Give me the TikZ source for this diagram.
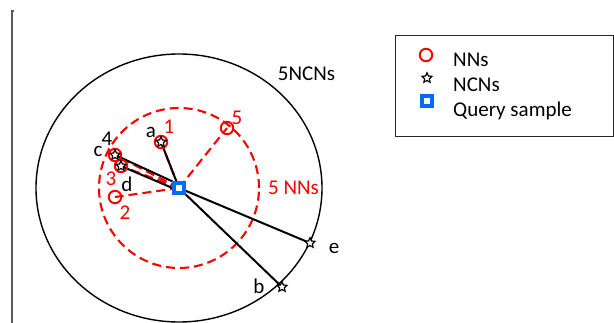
\documentclass[tikz,border=0pt]{standalone}
\usepackage{fontspec}
\setmainfont{Carlito}
\usetikzlibrary{shapes.geometric,backgrounds}
\definecolor{nnred}{RGB}{255,0,0}
\definecolor{qblue}{RGB}{0,108,245}
\definecolor{axisgray}{RGB}{90,90,90}
\begin{document}
\begin{tikzpicture}[x=1pt,y=-1pt,
  lbl/.style={font=\fontsize{21}{25}\selectfont, inner sep=0pt},
  nnlbl/.style={lbl, text=nnred},
  nn/.style={circle, draw=nnred, line width=1.9pt, minimum size=12.5pt, inner sep=0pt},
  ncn/.style={star, star points=5, star point ratio=2.1, draw=black, fill=white,
              line width=1.2pt, minimum size=10.5pt, inner sep=0pt},
  query/.style={rectangle, draw=qblue, fill=white, line width=3.2pt,
                minimum size=10pt, inner sep=0pt},
  link/.style={black, line width=2pt},
  nnlink/.style={nnred, line width=2.1pt, dash pattern=on 9pt off 5pt},
]
\useasboundingbox (0,0) rectangle (614,323);

% left axis line
\draw[axisgray, line width=1.3pt] (12,11) -- (12,323);
\draw[axisgray, line width=1.3pt] (11.4,11) -- (14,11);

% nearest neighbours (red circles)
\node[nn] (n1) at (161,142) {};
\node[nn] (n2) at (115,197) {};
\node[nn] (n3) at (121,166) {};
\node[nn] (n4) at (115,155) {};
\node[nn] (n5) at (227,128) {};

% nearest centroid neighbours (stars)
\node[ncn] (a) at (161,142) {};
\node[ncn] (c) at (115,155) {};
\node[ncn] (d) at (121,166) {};
\node[ncn] (e) at (310,243) {};
\node[ncn] (b) at (282,287) {};

% query sample
\node[query] (q) at (179,188) {};

\begin{scope}[on background layer]
  % 5NCNs neighbourhood
  \draw[black, line width=1.4pt] (q.center) ellipse [x radius=143pt, y radius=134pt];
  % 5NNs neighbourhood
  \draw[nnlink] (q.center) circle [radius=80pt];
  % links to the NNs
  \draw[nnlink] (q.center) -- (n5.center);
  \draw[nnlink] (q.center) -- (n2.center);
  \draw[nnlink] (q.center) -- (n3.center);
  \draw[nnlink] (q.center) -- (n4.center);
  \draw[nnlink] (q.center) -- (n1.center);
  % links to the NCNs
  \draw[link] (q.center) -- (a.center);
  \draw[link] (q.north west) -- (c.center);
  \draw[link] (q.west) -- (d.center);
  \draw[link] (q.center) -- (e.center);
  \draw[link] (q.center) -- (b.center);
\end{scope}

% labels
\node[lbl] (la) at (151,132) {a};
\node[nnlbl] (l1) at (169,127) {1};
\node[lbl] (l4) at (107,139) {4};
\node[lbl] (lc) at (98,151) {c};
\node[nnlbl] (l3) at (111,179) {3};
\node[lbl] (ld) at (127,184) {d};
\node[nnlbl] (l2) at (125,213) {2};
\node[nnlbl] (l5) at (237,118) {5};
\node[lbl] (le) at (334,248) {e};
\node[lbl] (lb) at (259,286) {b};
\node[lbl] (tncn) at (306.5,74) {5NCNs};
\node[nnlbl] (tnn) at (293.5,188) {5 NNs};

% legend
\node[draw=black!85, line width=1.3pt, anchor=north west, minimum width=218pt,
      minimum height=101pt, inner sep=0pt] (legend) at (395,35) {};
\node[nn] (kn) at (426,55) {};
\node[ncn] (ks) at (427,78) {};
\node[query] (kq) at (427,101) {};
\node[lbl, anchor=base west] (tn) at (453,66.7) {NNs};
\node[lbl, anchor=base west] (ts) at (453,91.7) {NCNs};
\node[lbl, anchor=base west] (tq) at (453,117) {Query sample};
\end{tikzpicture}
\end{document}
